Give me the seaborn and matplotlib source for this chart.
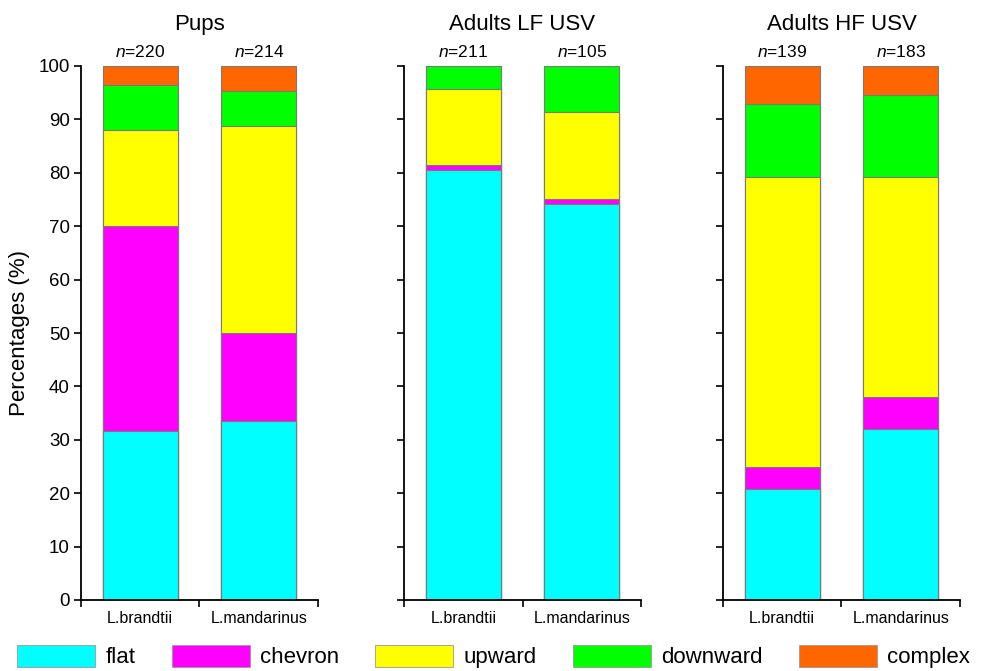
import matplotlib
matplotlib.use("Agg")
import matplotlib.pyplot as plt
from matplotlib.patches import Patch
import seaborn as sns
import pandas as pd
import numpy as np

# Call-type composition (%) per species and recording group
species = ["L.brandtii", "L.mandarinus"]
call_types = ["flat", "chevron", "upward", "downward", "complex"]
panel_titles = ["Pups", "Adults LF USV", "Adults HF USV"]

pups_flat = [31.6, 33.5]
pups_chevron = [38.4, 16.5]
pups_upward = [18.1, 38.7]
pups_downward = [8.3, 6.6]
pups_complex = [3.6, 4.7]
pups_n = [220, 214]

lf_flat = [80.5, 74.2]
lf_chevron = [1.0, 0.9]
lf_upward = [14.2, 16.3]
lf_downward = [4.3, 8.6]
lf_complex = [0.0, 0.0]
lf_n = [211, 105]

hf_flat = [20.7, 32.0]
hf_chevron = [4.3, 6.0]
hf_upward = [54.2, 41.2]
hf_downward = [13.6, 15.3]
hf_complex = [7.2, 5.5]
hf_n = [139, 183]

colors = ["#00FFFF", "#FF00FF", "#FFFF00", "#00FF00", "#FF6600"]

panels = [
    (pups_flat, pups_chevron, pups_upward, pups_downward, pups_complex, pups_n),
    (lf_flat, lf_chevron, lf_upward, lf_downward, lf_complex, lf_n),
    (hf_flat, hf_chevron, hf_upward, hf_downward, hf_complex, hf_n),
]

sns.set_style("white")
plt.rcParams["font.family"] = ["Liberation Sans", "DejaVu Sans"]
plt.rcParams["text.color"] = "black"
plt.rcParams["axes.labelcolor"] = "black"
plt.rcParams["xtick.color"] = "black"
plt.rcParams["ytick.color"] = "black"
plt.rcParams["mathtext.fontset"] = "custom"
plt.rcParams["mathtext.rm"] = "Liberation Sans"
plt.rcParams["mathtext.it"] = "Liberation Sans:italic"

fig = plt.figure(figsize=(9.87, 6.71), dpi=100)
lefts = [81 / 987, 404 / 987, 723 / 987]
ax_w = 237 / 987
ax_b = 1 - 600 / 671
ax_h = (600 - 66) / 671

for k, (left, vals) in enumerate(zip(lefts, panels)):
    ax = fig.add_axes([left, ax_b, ax_w, ax_h])
    segs = vals[:5]
    n_vals = vals[5]
    tops = np.cumsum(np.array(segs), axis=0)
    # draw from the top segment down so each lower stack covers the one above
    for j in range(len(call_types) - 1, -1, -1):
        df = pd.DataFrame({"species": species, "top": tops[j]})
        sns.barplot(data=df, x="species", y="top", color=colors[j],
                    saturation=1, width=0.63, edgecolor="#7a7a7a",
                    linewidth=0.8, ax=ax, errorbar=None)
    ax.set_xlim(-0.5, 1.5)
    ax.set_ylim(0, 100)
    ax.set_yticks(np.arange(0, 101, 10))
    ax.set_xlabel("")
    ax.set_ylabel("")
    ax.set_xticks([-0.5, 0.5, 1.5])
    ax.set_xticklabels([])
    ax.tick_params(axis="x", bottom=True, direction="out", length=5, width=1.2,
                   color="black")
    ax.tick_params(axis="y", left=True, direction="out", length=5, width=1.2,
                   color="black", labelsize=13.5, pad=3)
    for i, sp in enumerate(species):
        ax.text(i, -2.0, sp, ha="center", va="top", fontsize=11.5)
        ax.text(i, 101.2, r"$\it{n}$=%d" % n_vals[i], ha="center", va="bottom",
                fontsize=12.5)
    if k > 0:
        ax.set_yticklabels([])
    else:
        ax.set_ylabel("Percentages (%)", fontsize=16, labelpad=6)
    for s in ["top", "right"]:
        ax.spines[s].set_visible(False)
    for s in ["left", "bottom"]:
        ax.spines[s].set_color("black")
        ax.spines[s].set_linewidth(1.3)
    ax.set_title(panel_titles[k], fontsize=16, pad=26)

handles = [Patch(facecolor=c, edgecolor="#9a9a9a", linewidth=0.6) for c in colors]
fig.legend(handles, call_types, loc="lower center", bbox_to_anchor=(0.5, -0.026),
           ncol=5, frameon=False, handlelength=3.5,
           handleheight=1.15, handletextpad=0.45, columnspacing=1.65,
           prop={"size": 16})

fig.savefig("out.png", dpi=100)
